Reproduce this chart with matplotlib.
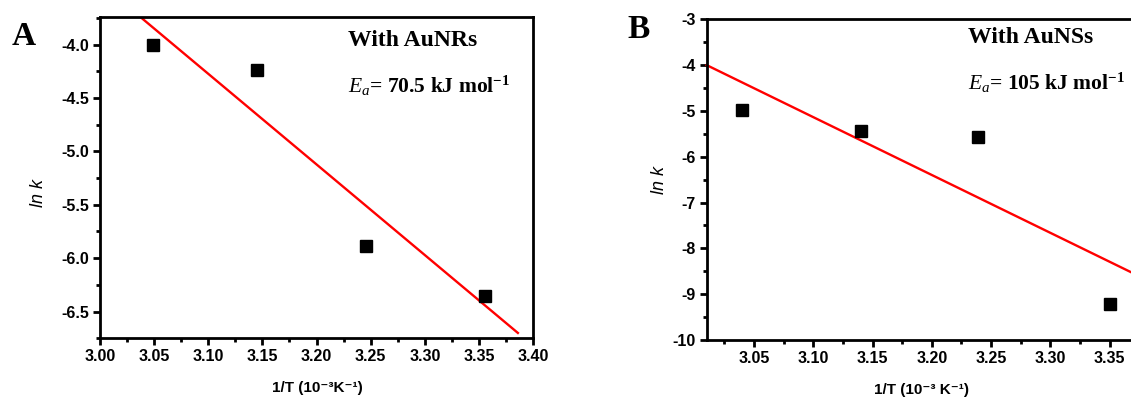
import matplotlib
matplotlib.use("Agg")
import matplotlib.pyplot as plt
from matplotlib.ticker import MultipleLocator

## DATA ##
# panel A: with AuNRs
inv_t_a = [3.049, 3.145, 3.246, 3.356]
lnk_a = [-4.00, -4.24, -5.89, -6.35]
fit_x_a = [3.030, 3.386]
fit_y_a = [-3.68, -6.70]

# panel B: with AuNSs
inv_t_b = [3.040, 3.140, 3.239, 3.350]
lnk_b = [-4.97, -5.43, -5.56, -9.22]
fit_x_b = [3.010, 3.368]
fit_y_b = [-4.00, -8.52]

xticks_a = [3.00, 3.05, 3.10, 3.15, 3.20, 3.25, 3.30, 3.35, 3.40]
yticks_a = [-4.0, -4.5, -5.0, -5.5, -6.0, -6.5]
xticks_b = [3.05, 3.10, 3.15, 3.20, 3.25, 3.30, 3.35]
yticks_b = [-3, -4, -5, -6, -7, -8, -9, -10]

plt.rcParams['mathtext.fontset'] = 'custom'
plt.rcParams['mathtext.rm'] = 'Liberation Serif:bold'
plt.rcParams['mathtext.it'] = 'Liberation Serif:italic'
plt.rcParams['mathtext.bf'] = 'Liberation Serif:bold'

SANS = ['Liberation Sans', 'DejaVu Sans']
SERIF = 'Liberation Serif'

fig = plt.figure(figsize=(11.31, 3.97), dpi=100)
ax_a = fig.add_axes([0.0884, 0.1479, 0.3829, 0.8085])
ax_b = fig.add_axes([0.6248, 0.1436, 0.3752, 0.8078])


def style(ax, xlim, ylim, xticks, yticks, xminor, yminor, fmt):
    ax.set_xlim(*xlim)
    ax.set_ylim(*ylim)
    ax.set_xticks(xticks)
    ax.set_yticks(yticks)
    ax.set_xticklabels([f"{v:.2f}" for v in xticks])
    ax.set_yticklabels([fmt.format(v) for v in yticks])
    ax.xaxis.set_minor_locator(MultipleLocator(xminor))
    ax.yaxis.set_minor_locator(MultipleLocator(yminor))
    for s in ax.spines.values():
        s.set_linewidth(2.0)
    ax.tick_params(which='major', direction='out', length=5, width=2.0, pad=3)
    ax.tick_params(which='minor', direction='out', length=3, width=2.0)
    ax.tick_params(top=False, right=False, which='both')
    for lab in ax.get_xticklabels() + ax.get_yticklabels():
        lab.set_fontfamily(SANS)
        lab.set_fontweight('bold')
        lab.set_fontsize(11.5)


# panel A
ax_a.plot(fit_x_a, fit_y_a, color='#ff0000', lw=1.7, zorder=2)
ax_a.plot(inv_t_a, lnk_a, 's', color='black', ms=8, zorder=3)
style(ax_a, (3.00, 3.40), (-6.75, -3.745), xticks_a, yticks_a, 0.025, 0.25, "{:.1f}")
ax_a.set_xlabel('1/T (10⁻³K⁻¹)', family=SANS, fontweight='bold', fontsize=11)
ax_a.set_ylabel('ln k', family=SANS, style='italic', fontsize=13)
ax_a.xaxis.set_label_coords(0.501, -0.133)
ax_a.yaxis.set_label_coords(-0.122, 0.453)
ax_a.text(0.573, 0.9115, 'With AuNRs', transform=ax_a.transAxes, family=SERIF,
          fontweight='bold', fontsize=17, va='baseline')
ax_a.text(0.573, 0.764, r'$E_a$= 70.5 kJ mol$^{-1}$', transform=ax_a.transAxes,
          family=SERIF, fontweight='bold', fontsize=15.5, va='baseline')

# panel B
ax_b.plot(fit_x_b, fit_y_b, color='#ff0000', lw=1.7, zorder=2, clip_on=False)
ax_b.plot(inv_t_b, lnk_b, 's', color='black', ms=8, zorder=3)
style(ax_b, (3.010, 3.368), (-10, -3), xticks_b, yticks_b, 0.025, 0.5, "{:d}")
ax_b.spines['right'].set_visible(False)
ax_b.set_xlabel('1/T (10⁻³ K⁻¹)', family=SANS, fontweight='bold', fontsize=11)
ax_b.set_ylabel('ln k', family=SANS, style='italic', fontsize=13)
ax_b.xaxis.set_label_coords(0.507, -0.134)
ax_b.yaxis.set_label_coords(-0.091, 0.50)
ax_b.text(0.615, 0.927, 'With AuNSs', transform=ax_b.transAxes, family=SERIF,
          fontweight='bold', fontsize=17, va='baseline')
ax_b.text(0.615, 0.78, r'$E_a$= 105 kJ mol$^{-1}$', transform=ax_b.transAxes,
          family=SERIF, fontweight='bold', fontsize=15.5, va='baseline')

# panel letters
fig.text(0.0106, 0.8866, 'A', family=SERIF, fontweight='bold', fontsize=24, va='baseline')
fig.text(0.555, 0.904, 'B', family=SERIF, fontweight='bold', fontsize=24, va='baseline')

fig.savefig('out.png', dpi=100)
